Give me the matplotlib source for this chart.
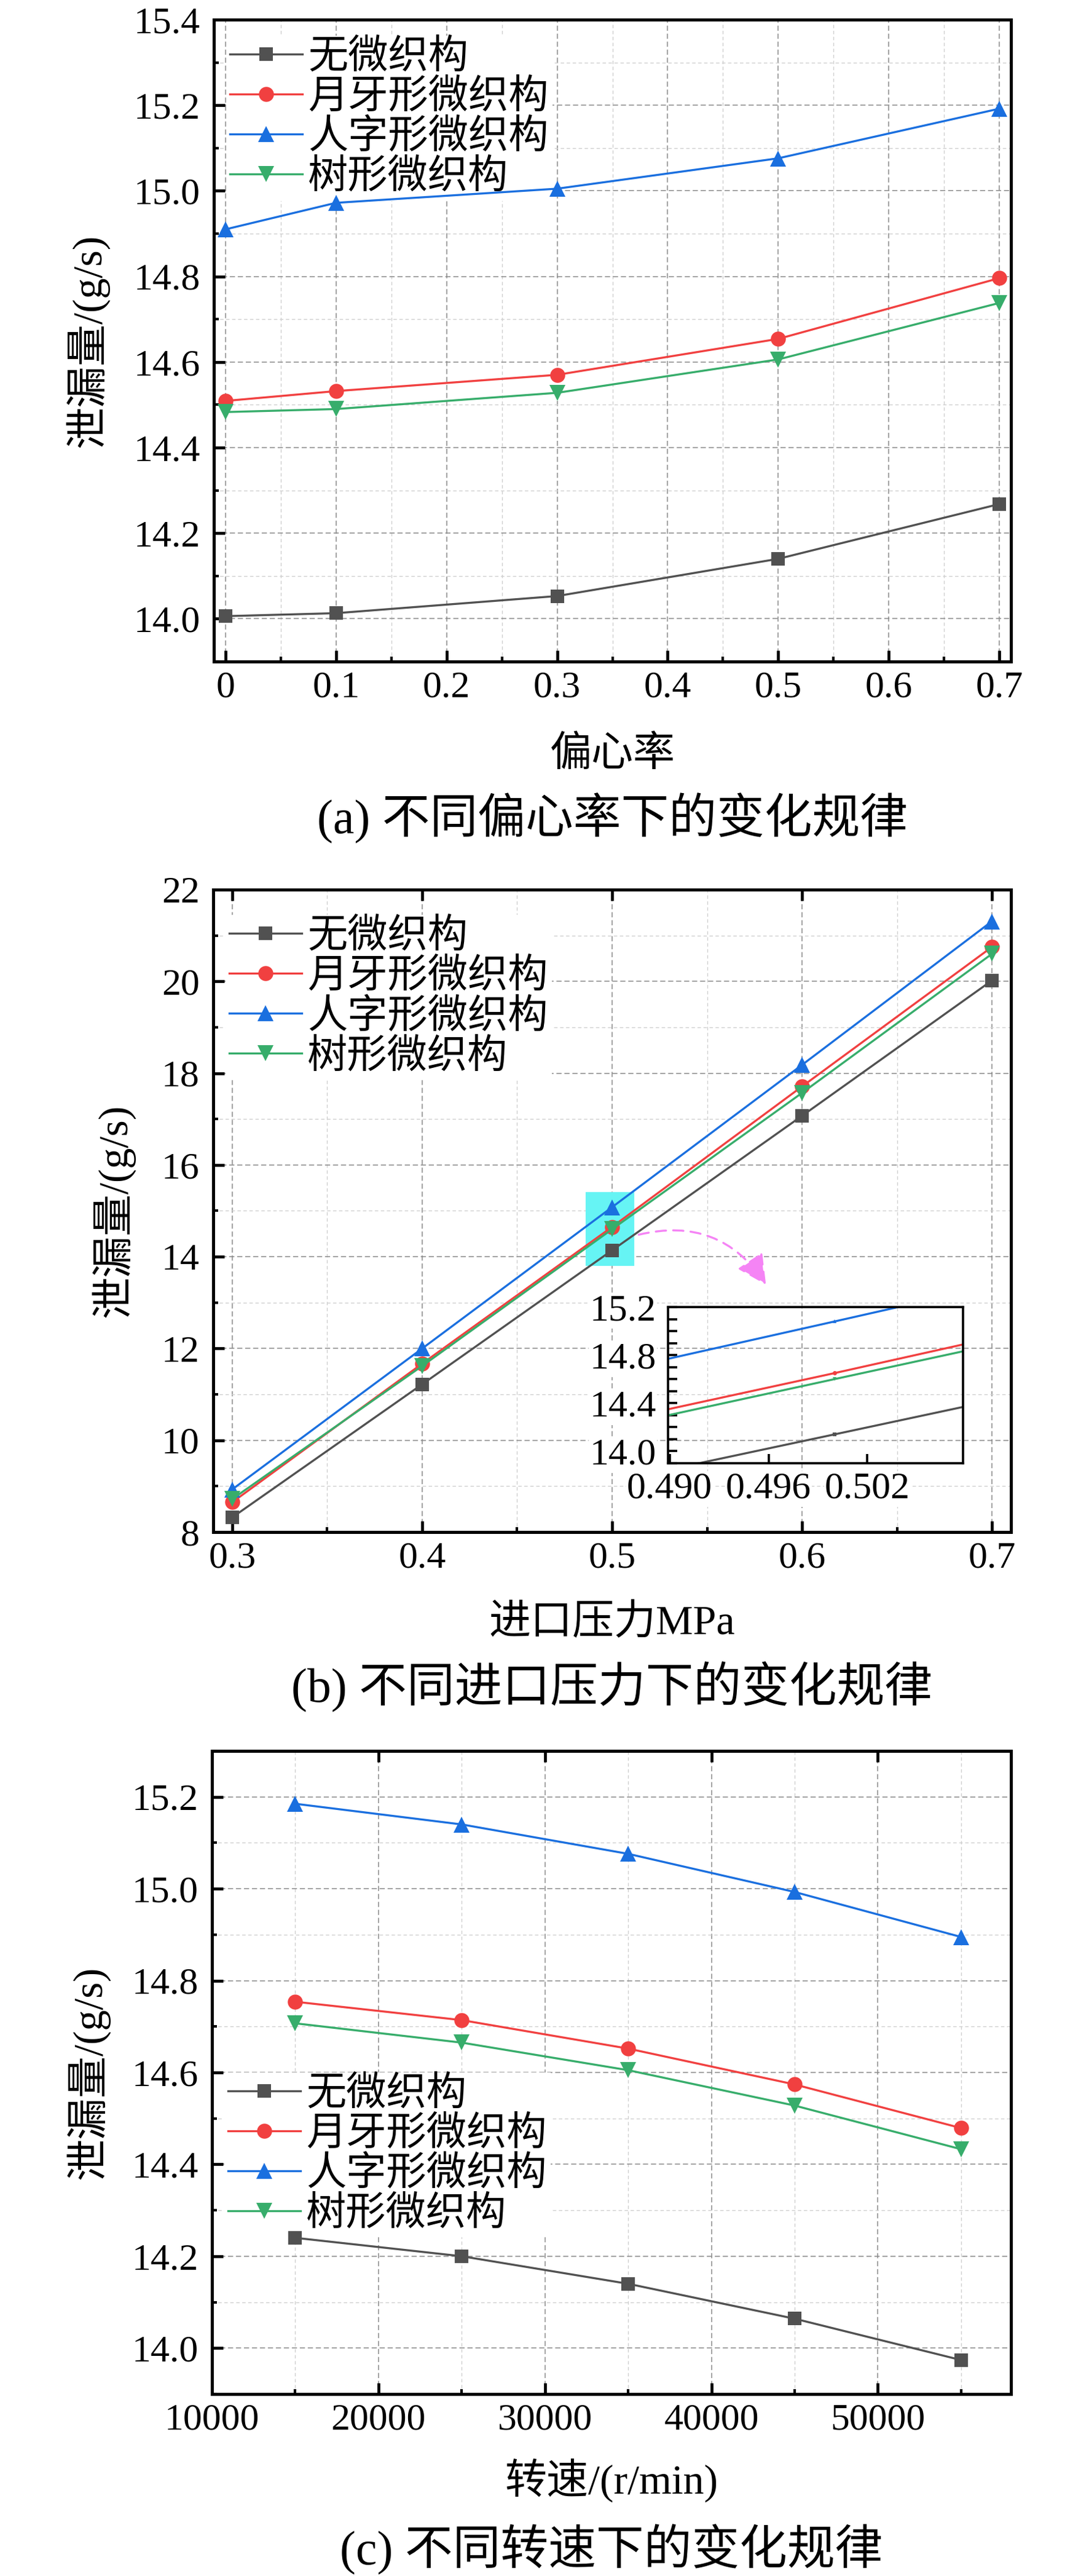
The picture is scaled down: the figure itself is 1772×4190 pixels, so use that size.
import matplotlib
matplotlib.use('Agg')
import matplotlib.pyplot as plt
from matplotlib.ticker import FixedLocator, FixedFormatter, MultipleLocator
from matplotlib.patches import Rectangle

plt.rcParams['font.family'] = ['Liberation Serif', 'Noto Sans CJK SC']
plt.rcParams['axes.unicode_minus'] = False

# ---------------- data ----------------
series_names = ['无微织构', '月牙形微织构', '人字形微织构', '树形微织构']
colors = ['#515151', '#F14040', '#1A6FDF', '#37AD6B']
markers = ['s', 'o', '^', 'v']

ecc = [0, 0.1, 0.3, 0.5, 0.7]
ecc_none = [14.006, 14.013, 14.053, 14.140, 14.268]
ecc_crescent = [14.509, 14.532, 14.570, 14.654, 14.796]
ecc_herring = [14.910, 14.972, 15.005, 15.076, 15.192]
ecc_tree = [14.483, 14.490, 14.528, 14.606, 14.738]

pressure = [0.3, 0.4, 0.5, 0.6, 0.7]
p_none = [8.32, 11.22, 14.14, 17.07, 20.02]
p_crescent = [8.65, 11.67, 14.65, 17.71, 20.75]
p_herring = [8.93, 12.00, 15.08, 18.18, 21.31]
p_tree = [8.72, 11.62, 14.60, 17.57, 20.60]

speed = [15000, 25000, 35000, 45000, 55000]
s_none = [14.240, 14.200, 14.140, 14.064, 13.974]
s_crescent = [14.754, 14.714, 14.652, 14.574, 14.479]
s_herring = [15.185, 15.140, 15.076, 14.993, 14.895]
s_tree = [14.707, 14.665, 14.605, 14.528, 14.433]

a_xticks = [0, 0.1, 0.2, 0.3, 0.4, 0.5, 0.6, 0.7]
a_xlabels = ['0', '0.1', '0.2', '0.3', '0.4', '0.5', '0.6', '0.7']
a_yticks = [14.0, 14.2, 14.4, 14.6, 14.8, 15.0, 15.2, 15.4]
a_ylabels = ['14.0', '14.2', '14.4', '14.6', '14.8', '15.0', '15.2', '15.4']

b_xticks = [0.3, 0.4, 0.5, 0.6, 0.7]
b_xlabels = ['0.3', '0.4', '0.5', '0.6', '0.7']
b_yticks = [8, 10, 12, 14, 16, 18, 20, 22]
b_ylabels = ['8', '10', '12', '14', '16', '18', '20', '22']

ins_xticks = [0.490, 0.496, 0.502]
ins_xlabels = ['0.490', '0.496', '0.502']
ins_yticks = [14.0, 14.4, 14.8, 15.2]
ins_ylabels = ['14.0', '14.4', '14.8', '15.2']

c_xticks = [10000, 20000, 30000, 40000, 50000]
c_xlabels = ['10000', '20000', '30000', '40000', '50000']
c_yticks = [14.0, 14.2, 14.4, 14.6, 14.8, 15.0, 15.2]
c_ylabels = ['14.0', '14.2', '14.4', '14.6', '14.8', '15.0', '15.2']

ylabel_text = '泄漏量/(g/s)'
xlabel_a = '偏心率'
xlabel_b = '进口压力MPa'
xlabel_c = '转速/(r/min)'
caption_a = '(a) 不同偏心率下的变化规律'
caption_b = '(b) 不同进口压力下的变化规律'
caption_c = '(c) 不同转速下的变化规律'

# zoom box and arrow (data coords of panel b)
zoom_box = (0.486, 13.80, 0.0255, 1.61)
arrow_start = (0.514, 14.48)
arrow_end = (0.581, 13.39)

# ---------------- figure ----------------
W, H = 1772, 4190
DPI = 100
fig = plt.figure(figsize=(W / DPI, H / DPI), dpi=DPI)

def rect(left, top, right, bottom):
    return [left / W, 1 - bottom / H, (right - left) / W, (bottom - top) / H]

SERIF = 'Liberation Serif'
TICK_FS = 44.5
LAB_FS = 49
CAP_FS = 56
LEG_FS = 47

def style_axes(ax, xt, xl, yt, yl, xminor, yminor, top_ticks):
    ax.xaxis.set_major_locator(FixedLocator(xt))
    ax.xaxis.set_major_formatter(FixedFormatter(xl))
    ax.yaxis.set_major_locator(FixedLocator(yt))
    ax.yaxis.set_major_formatter(FixedFormatter(yl))
    ax.xaxis.set_minor_locator(MultipleLocator(xminor))
    ax.yaxis.set_minor_locator(MultipleLocator(yminor))
    ax.tick_params(which='both', direction='in', right=False, top=False,
                   labelsize=TICK_FS, labelfontfamily=SERIF)
    ax.tick_params(which='major', length=13, width=3.4)
    ax.tick_params(which='minor', length=6, width=3.0)
    ax.tick_params(axis='x', which='major', pad=11)
    ax.tick_params(axis='y', which='major', pad=16)
    if top_ticks:
        ax.tick_params(which='major', top=True)
    for s in ax.spines.values():
        s.set_linewidth(3.6)
    ax.set_axisbelow(True)
    ax.grid(which='major', color='#8a8a8a', linestyle=(0, (5.5, 3)), linewidth=1.1)
    ax.grid(which='minor', color='#cfcfcf', linestyle=(0, (4, 3)), linewidth=1.0)

def plot_series(ax, x, ys, ms=16, lw=2.4, zorder=3):
    handles = []
    for y, c, m, n in zip(ys, colors, markers, series_names):
        size = ms * (1.15 if m in ('^', 'v') else (1.1 if m == 'o' else 1.0))
        h, = ax.plot(x, y, color=c, marker=m, markersize=size, lw=lw,
                     markeredgewidth=0, label=n, zorder=zorder)
        handles.append(h)
    return handles

def add_legend(ax, anchor, loc='upper left'):
    leg = ax.legend(loc=loc, bbox_to_anchor=anchor, fontsize=LEG_FS,
                    frameon=True, fancybox=False, framealpha=1,
                    facecolor='white', edgecolor='none',
                    handlelength=1.8, handletextpad=0.15,
                    labelspacing=0.07, borderpad=0.1, borderaxespad=0.3)
    leg.set_zorder(2.8)
    return leg

def add_labels(ax, xlab, ylab_x, xlab_y, cap_y, cap):
    ax.text(0.5, xlab_y, xlab, transform=ax.transAxes, ha='center', va='center',
            fontsize=LAB_FS)
    ax.text(ylab_x, 0.5, ylabel_text, transform=ax.transAxes, ha='center',
            va='center', rotation=90, fontsize=LAB_FS)
    ax.text(0.5, cap_y, cap, transform=ax.transAxes, ha='center', va='center',
            fontsize=CAP_FS)

# ---------------- panel (a) ----------------
axa = fig.add_axes(rect(348, 32, 1645, 1076))
plot_series(axa, ecc, [ecc_none, ecc_crescent, ecc_herring, ecc_tree])
axa.set_xlim(-0.0105, 0.7105)
axa.set_ylim(13.9, 15.4)
style_axes(axa, a_xticks, a_xlabels, a_yticks, a_ylabels, 0.05, 0.1, False)
add_legend(axa, (0.0, 0.994))
add_labels(axa, xlabel_a, -0.159, -0.146, -0.244, caption_a)

# ---------------- panel (b) ----------------
axb = fig.add_axes(rect(347, 1447, 1645, 2492))
plot_series(axb, pressure, [p_none, p_crescent, p_herring, p_tree])
axb.set_xlim(0.29, 0.71)
axb.set_ylim(8, 22)
style_axes(axb, b_xticks, b_xlabels, b_yticks, b_ylabels, 0.05, 1, True)
add_legend(axb, (0.0, 0.9795))
add_labels(axb, xlabel_b, -0.1256, -0.1426, -0.2411, caption_b)
axb.add_patch(Rectangle(zoom_box[:2], zoom_box[2], zoom_box[3],
                        facecolor='#66F4F4', edgecolor='none', zorder=2))
axb.annotate('', xy=arrow_end, xytext=arrow_start,
             arrowprops=dict(arrowstyle='-|>,head_length=0.75,head_width=0.38',
                             mutation_scale=40, color='#F584F5', lw=2.4,
                             linestyle=(0, (5, 3.5)),
                             connectionstyle='arc3,rad=-0.35',
                             shrinkA=0, shrinkB=0), zorder=4)

# inset
axi = fig.add_axes(rect(1087, 2126, 1567, 2380))
axi.patch.set_alpha(0)
for y, c, m in zip([p_none, p_crescent, p_herring, p_tree], colors, markers):
    axi.plot(pressure, y, color=c, marker=m, markersize=5, lw=2.4,
             markeredgewidth=0)
axi.set_xlim(0.4899, 0.5078)
axi.set_ylim(13.9, 15.2)
axi.xaxis.set_major_locator(FixedLocator(ins_xticks))
axi.xaxis.set_major_formatter(FixedFormatter(ins_xlabels))
axi.yaxis.set_major_locator(FixedLocator(ins_yticks))
axi.yaxis.set_major_formatter(FixedFormatter(ins_ylabels))
axi.yaxis.set_minor_locator(MultipleLocator(0.1))
axi.tick_params(which='both', direction='in', labelsize=TICK_FS,
                labelfontfamily=SERIF)
axi.tick_params(which='major', length=11, width=2.6)
axi.tick_params(which='minor', length=11, width=2.6)
axi.tick_params(axis='x', pad=10)
axi.tick_params(axis='y', pad=14)
for s in axi.spines.values():
    s.set_linewidth(2.6)
for lab in axi.get_xticklabels() + axi.get_yticklabels():
    lab.set_bbox(dict(facecolor='white', edgecolor='none', pad=1))

# ---------------- panel (c) ----------------
axc = fig.add_axes(rect(345, 2848, 1645, 3894))
plot_series(axc, speed, [s_none, s_crescent, s_herring, s_tree])
axc.set_xlim(10000, 58000)
axc.set_ylim(13.9, 15.3)
style_axes(axc, c_xticks, c_xlabels, c_yticks, c_ylabels, 5000, 0.1, True)
add_legend(axc, (0.0, 0.372), loc='center left')
add_labels(axc, xlabel_c, -0.156, -0.134, -0.242, caption_c)

fig.savefig('out.png', dpi=DPI)
